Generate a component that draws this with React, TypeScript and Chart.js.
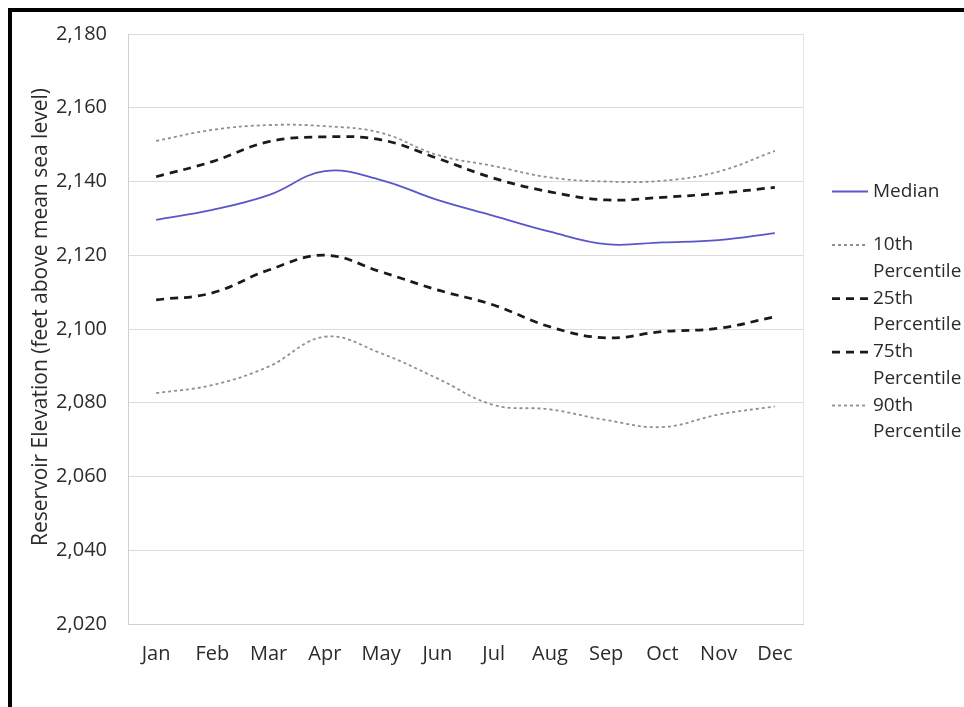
import React, { useEffect, useRef } from "react";
import { Chart, registerables } from "chart.js";

Chart.register(...registerables);

const months = ["Jan", "Feb", "Mar", "Apr", "May", "Jun", "Jul", "Aug", "Sep", "Oct", "Nov", "Dec"];
const median = [2129.6, 2132.3, 2136.3, 2142.8, 2140.4, 2135.0, 2130.7, 2126.4, 2123.0, 2123.5, 2124.1, 2126.0];
const p10 = [2082.6, 2084.8, 2089.8, 2097.9, 2093.4, 2086.6, 2079.4, 2078.2, 2075.3, 2073.4, 2076.8, 2079.0];
const p25 = [2107.9, 2109.8, 2116.0, 2120.0, 2115.5, 2110.6, 2106.5, 2100.6, 2097.6, 2099.3, 2100.2, 2103.3];
const p75 = [2141.3, 2145.4, 2150.8, 2152.1, 2151.3, 2146.3, 2140.9, 2137.2, 2135.0, 2135.7, 2136.8, 2138.4];
const p90 = [2151.0, 2154.0, 2155.3, 2155.0, 2153.2, 2147.2, 2144.2, 2141.1, 2140.0, 2140.2, 2142.7, 2148.3];
const yMin = 2020;
const yMax = 2180;
const yStep = 20;
const yTitle = "Reservoir Elevation (feet above mean sea level)";

const FONT = '"Open Sans", "Noto Sans", sans-serif';
const TEXT = "#2b2b2b";
const FS_TICK = 20;
const FS_TITLE = 21;
const FS_LEGEND = 19;

const sidePlugin = {
  id: "sideLegendAndTitle",
  beforeDatasetsDraw(chart: any) {
    const { ctx, chartArea } = chart;
    ctx.save();
    ctx.strokeStyle = "#e6e6e6";
    ctx.lineWidth = 1;
    ctx.beginPath();
    ctx.moveTo(chartArea.right + 0.5, chartArea.top);
    ctx.lineTo(chartArea.right + 0.5, chartArea.bottom);
    ctx.stroke();
    ctx.restore();
  },
  afterDraw(chart: any) {
    const { ctx, chartArea } = chart;
    ctx.save();
    // y-axis title
    ctx.font = `${FS_TITLE}px ${FONT}`;
    ctx.fillStyle = TEXT;
    ctx.textAlign = "center";
    ctx.textBaseline = "middle";
    ctx.translate(29, chartArea.top + 283);
    ctx.rotate(-Math.PI / 2);
    ctx.fillText(yTitle, 0, 0);
    ctx.restore();

    // legend
    ctx.save();
    const x0 = chartArea.right + 29;
    const lineH = 26.5;
    let y = chartArea.top + 157.5;
    chart.data.datasets.forEach((ds: any) => {
      const words = String(ds.label).split(" ");
      const lines = words.length > 1 ? [words[0], words.slice(1).join(" ")] : words;
      ctx.strokeStyle = ds.borderColor;
      ctx.lineWidth = ds.borderWidth;
      ctx.setLineDash(ds.borderDash || []);
      ctx.beginPath();
      ctx.moveTo(x0, y);
      ctx.lineTo(x0 + 36, y);
      ctx.stroke();
      ctx.setLineDash([]);
      ctx.font = `${FS_LEGEND}px ${FONT}`;
      ctx.fillStyle = TEXT;
      ctx.textAlign = "left";
      ctx.textBaseline = "middle";
      lines.forEach((t: string, k: number) => ctx.fillText(t, x0 + 41, y + k * lineH));
      y += 53.5;
    });
    ctx.restore();
  },
};

export default function App() {
  const ref = useRef<HTMLCanvasElement | null>(null);

  useEffect(() => {
    if (!ref.current) return;
    const greyDot = { borderColor: "#8f8f8f", borderWidth: 1.8, borderDash: [3, 3] };
    const blackDash = { borderColor: "#1a1a1a", borderWidth: 2.75, borderDash: [8, 6] };
    const chart = new Chart(ref.current, {
      type: "line",
      data: {
        labels: months,
        datasets: [
          { label: "Median", data: median, borderColor: "#5a55c8", borderWidth: 1.8, borderDash: [] },
          { label: "10th Percentile", data: p10, ...greyDot },
          { label: "25th Percentile", data: p25, ...blackDash },
          { label: "75th Percentile", data: p75, ...blackDash },
          { label: "90th Percentile", data: p90, ...greyDot },
        ].map((d) => ({ ...d, pointRadius: 0, pointHoverRadius: 0, fill: false, tension: 0.4 })),
      },
      options: {
        animation: false,
        responsive: false,
        devicePixelRatio: 1,
        layout: { padding: { top: 22, right: 161, bottom: 0, left: 0 } },
        plugins: {
          legend: { display: false },
          tooltip: { enabled: false },
          title: { display: false },
        },
        scales: {
          x: {
            type: "category",
            offset: true,
            grid: { display: false, drawTicks: false },
            border: { display: true, color: "#d0d0d0", width: 1 },
            ticks: {
              font: { family: FONT, size: FS_TICK },
              color: TEXT,
              padding: 18,
              maxRotation: 0,
              autoSkip: false,
            },
            afterFit: (s: any) => {
              s.height = 83;
            },
          },
          y: {
            min: yMin,
            max: yMax,
            grid: {
              color: "#dcdcdc",
              lineWidth: 1,
              drawTicks: true,
              tickLength: 21,
              tickColor: "rgba(0,0,0,0)",
            },
            border: { display: true, color: "#d0d0d0", width: 1 },
            ticks: {
              stepSize: yStep,
              font: { family: FONT, size: FS_TICK },
              color: TEXT,
              padding: 0,
              callback: (v: any) => Number(v).toLocaleString("en-US"),
            },
            afterFit: (s: any) => {
              s.width = 116;
            },
          },
        },
      },
      plugins: [sidePlugin],
    });
    return () => chart.destroy();
  }, []);

  return (
    <div
      style={{
        position: "fixed",
        left: 8,
        top: 8,
        width: 956,
        height: 699,
        boxSizing: "border-box",
        borderLeft: "4px solid #000",
        borderTop: "4px solid #000",
        background: "#fff",
        overflow: "hidden",
      }}
    >
      <canvas ref={ref} width={952} height={695} style={{ display: "block", width: 952, height: 695 }} />
    </div>
  );
}
